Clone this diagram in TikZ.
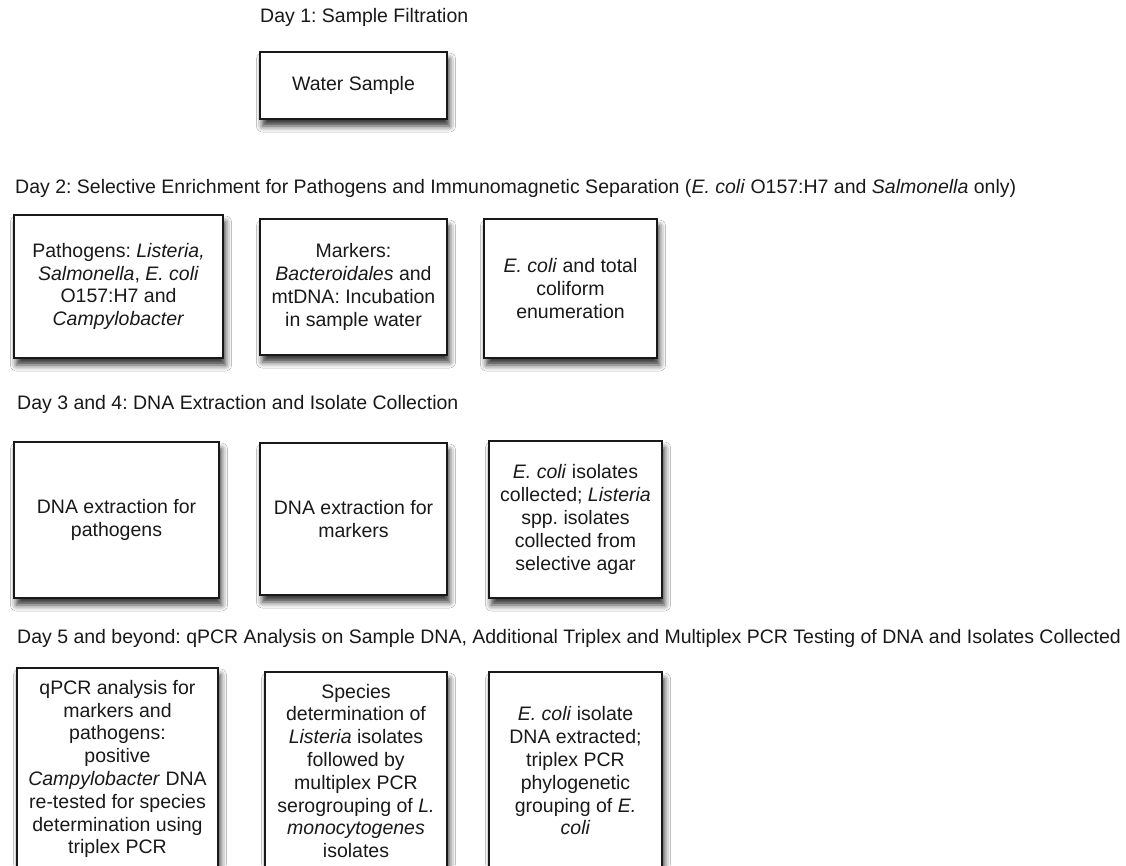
\documentclass[tikz,border=0pt]{standalone}
\usepackage{fontspec}
\setmainfont{Liberation Sans}
\usetikzlibrary{shadows.blur}
\tikzset{
  stagebox/.style={draw=black!90, line width=1.3pt, fill=white, align=center, inner sep=0pt,
    text=black!90, blur shadow={shadow xshift=2.5pt, shadow yshift=-7pt,
    shadow blur radius=6pt, shadow opacity=80}},
  daylabel/.style={anchor=west, inner sep=0pt, text=black!90}
}
\frenchspacing
\begin{document}
\begin{tikzpicture}[x=1pt, y=-1pt, every node/.style={font=\fontsize{19.5}{22.8}\selectfont}]
  \useasboundingbox[fill=white] (0,0) rectangle (1126,865);
  \clip (0,0) rectangle (1126,865);
  % day headings
  \node[daylabel] (day1) at (260,17) {Day 1: Sample Filtration};
  \node[daylabel] (day2) at (15,188) {Day 2: Selective Enrichment for Pathogens and Immunomagnetic Separation (\textit{E. coli} O157:H7 and \textit{Salmonella} only)};
  \node[daylabel] (day3) at (17,404) {Day 3 and 4: DNA Extraction and Isolate Collection};
  \node[daylabel] (day5) at (17,638) {Day 5 and beyond: qPCR Analysis on Sample DNA, Additional Triplex and Multiplex PCR Testing of DNA and Isolates Collected};
  % day 1
  \node[stagebox, minimum width=187pt, minimum height=67pt] (water) at (353.5,85.5) {Water Sample};
  % day 2
  \node[stagebox, minimum width=209pt, minimum height=143pt] (enrichpath) at (118.5,286.5)
    {Pathogens: \textit{Listeria,}\\\textit{Salmonella}, \textit{E. coli}\\O157:H7 and\\\textit{Campylobacter}};
  \node[stagebox, minimum width=187pt, minimum height=136pt] (enrichmark) at (353.5,287)
    {Markers:\\\textit{Bacteroidales} and\\mtDNA: Incubation\\in sample water};
  \node[stagebox, minimum width=173pt, minimum height=139pt] (enumerate) at (570.5,288.5)
    {\textit{E. coli} and total\\coliform\\enumeration};
  % day 3 and 4
  \node[stagebox, minimum width=205pt, minimum height=156pt] (extractpath) at (116.5,520)
    {DNA extraction for\\pathogens};
  \node[stagebox, minimum width=187pt, minimum height=152pt] (extractmark) at (353.5,519)
    {DNA extraction for\\markers};
  \node[stagebox, minimum width=173pt, minimum height=157pt] (isolates) at (575.5,519.5)
    {\textit{E. coli} isolates\\collected; \textit{Listeria}\\spp. isolates\\collected from\\selective agar};
  % day 5 and beyond
  \node[stagebox, minimum width=201pt, minimum height=202pt] (qpcr) at (117.5,769)
    {qPCR analysis for\\markers and\\pathogens:\\positive\\\textit{Campylobacter} DNA\\re-tested for species\\determination using\\triplex PCR};
  \node[stagebox, minimum width=182pt, minimum height=198pt] (listeria) at (356,771)
    {Species\\determination of\\\textit{Listeria} isolates\\followed by\\multiplex PCR\\serogrouping of \textit{L.}\\\textit{monocytogenes}\\isolates};
  \node[stagebox, minimum width=173pt, minimum height=198pt] (phylo) at (575.5,771)
    {\textit{E. coli} isolate\\DNA extracted;\\triplex PCR\\phylogenetic\\grouping of \textit{E.}\\\textit{coli}};
\end{tikzpicture}
\end{document}
